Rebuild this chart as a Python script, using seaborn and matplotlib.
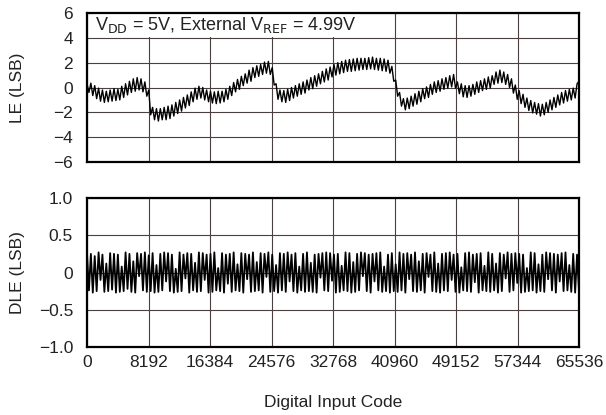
import numpy as np
import pandas as pd
import matplotlib
matplotlib.use("Agg")
import matplotlib.pyplot as plt
import seaborn as sns

# ---------------- data ----------------
x_ticks = [0, 8192, 16384, 24576, 32768, 40960, 49152, 57344, 65536]
x_tick_labels = ["0", "8192", "16384", "24576", "32768", "40960", "49152", "57344", "65536"]
le_ticks = [6, 4, 2, 0, -2, -4, -6]
le_tick_labels = ["6", "4", "2", "0", "\u22122", "\u22124", "\u22126"]
dle_ticks = [1.0, 0.5, 0, -0.5, -1.0]
dle_tick_labels = ["1.0", "0.5", "0", "\u22120.5", "\u22121.0"]

# LE (INL) samples, one every 256 codes
le_values = [
    0.3, -0.4, 0.35, -0.65, 0.15, -0.9, -0.05, -1.1, -0.2, -1.2, -0.3, -1.15, -0.2, -1.1, -0.1, -1.05,
    -0.15, -1.0, 0.1, -0.8, 0.3, -0.6, 0.5, -0.4, 0.7, -0.3, 0.8, -0.2, 0.7, -0.35, 0.45, -0.7,
    -0.2, -2.2, -1.6, -2.6, -1.7, -2.7, -1.7, -2.6, -1.6, -2.6, -1.5, -2.5, -1.4, -2.3, -1.2, -2.1,
    -1.0, -1.9, -0.8, -1.65, -0.6, -1.45, -0.35, -1.15, -0.05, -0.95, 0.1, -0.85, 0.0, -1.0, -0.2, -1.15,
    -0.3, -1.25, -0.35, -1.3, -0.3, -1.25, -0.3, -1.15, -0.15, -0.95, 0.1, -0.65, 0.4, -0.35, 0.65, -0.15,
    0.9, 0.15, 1.1, 0.35, 1.4, 0.5, 1.6, 0.8, 1.75, 0.9, 1.85, 1.05, 2.05, 1.15, 2.1, 1.05,
    1.6, 0.2, 0.3, -0.95, -0.2, -1.15, -0.25, -1.2, -0.15, -1.05, 0.0, -0.85, 0.15, -0.7, 0.3, -0.55,
    0.45, -0.45, 0.6, -0.2, 0.8, -0.1, 0.95, 0.1, 1.1, 0.3, 1.3, 0.45, 1.5, 0.6, 1.65, 0.85,
    1.85, 1.0, 2.0, 1.1, 2.1, 1.2, 2.2, 1.3, 2.25, 1.3, 2.3, 1.35, 2.35, 1.4, 2.35, 1.45,
    2.35, 1.45, 2.4, 1.5, 2.45, 1.45, 2.35, 1.4, 2.35, 1.35, 2.3, 1.3, 2.2, 1.15, 1.7, 0.5,
    0.6, -0.7, -0.4, -1.5, -0.9, -1.8, -0.85, -1.7, -0.7, -1.5, -0.5, -1.35, -0.3, -1.15, -0.1, -0.9,
    0.05, -0.8, 0.25, -0.55, 0.45, -0.4, 0.55, -0.3, 0.7, -0.15, 0.8, -0.05, 0.95, 0.05, 1.05, -0.05,
    0.45, -0.5, 0.3, -0.75, 0.15, -0.8, 0.15, -0.7, 0.25, -0.55, 0.45, -0.4, 0.55, -0.25, 0.7, -0.15,
    0.85, -0.05, 0.95, 0.25, 1.25, 0.35, 1.4, 0.4, 1.25, 0.25, 1.05, 0.0, 0.7, -0.45, 0.2, -0.95,
    -0.25, -1.3, -0.55, -1.6, -0.85, -1.85, -1.05, -2.05, -1.2, -2.15, -1.3, -2.3, -1.35, -2.2, -1.2, -2.0,
    -1.0, -1.8, -0.8, -1.6, -0.6, -1.4, -0.4, -1.25, -0.25, -1.1, -0.15, -1.0, -0.05, -0.85, 0.3, 0.5,
]

# DLE samples, one every 256 codes
dle_values = [
    0.26, -0.24, 0.25, -0.27, 0.22, -0.25, 0.27, -0.10, 0.24, -0.26, 0.12, -0.25, 0.26, -0.23, 0.25, -0.27,
    0.24, -0.26, 0.08, -0.25, 0.27, -0.22, 0.25, -0.26, 0.15, -0.27, 0.26, -0.05, 0.25, -0.24, 0.27, -0.26,
    0.23, -0.25, 0.26, -0.27, 0.10, -0.26, 0.25, -0.24, 0.27, -0.12, 0.26, -0.25, 0.24, -0.27, 0.05, -0.26,
    0.27, -0.25, 0.24, -0.08, 0.26, -0.27, 0.25, -0.24, 0.13, -0.26, 0.27, -0.25, 0.26, -0.10, 0.24, -0.27,
    0.25, -0.26, 0.27, -0.24, 0.06, -0.25, 0.26, -0.27, 0.24, -0.15, 0.25, -0.26, 0.27, -0.24, 0.11, -0.25,
    0.26, -0.27, 0.25, -0.09, 0.24, -0.26, 0.27, -0.25, 0.14, -0.24, 0.26, -0.27, 0.25, -0.06, 0.27, -0.26,
    0.24, -0.25, 0.10, -0.27, 0.26, -0.24, 0.25, -0.26, 0.27, -0.12, 0.24, -0.25, 0.26, -0.27, 0.08, -0.24,
    0.25, -0.26, 0.27, -0.25, 0.13, -0.26, 0.24, -0.27, 0.25, -0.07, 0.26, -0.24, 0.27, -0.25, 0.26, -0.11,
    0.24, -0.27, 0.25, -0.26, 0.09, -0.24, 0.27, -0.25, 0.26, -0.27, 0.14, -0.26, 0.25, -0.24, 0.27, -0.05,
    0.26, -0.25, 0.24, -0.27, 0.25, -0.12, 0.26, -0.24, 0.27, -0.26, 0.08, -0.25, 0.24, -0.27, 0.26, -0.25,
    0.11, -0.26, 0.27, -0.24, 0.25, -0.27, 0.26, -0.09, 0.24, -0.25, 0.27, -0.26, 0.15, -0.24, 0.25, -0.27,
    0.26, -0.06, 0.24, -0.25, 0.27, -0.26, 0.12, -0.27, 0.25, -0.24, 0.26, -0.25, 0.27, -0.10, 0.24, -0.26,
    0.25, -0.27, 0.07, -0.24, 0.26, -0.25, 0.27, -0.26, 0.24, -0.13, 0.25, -0.27, 0.26, -0.24, 0.09, -0.25,
    0.27, -0.26, 0.25, -0.24, 0.12, -0.27, 0.26, -0.25, 0.24, -0.08, 0.27, -0.26, 0.25, -0.24, 0.26, -0.14,
    0.25, -0.27, 0.24, -0.26, 0.06, -0.25, 0.27, -0.24, 0.26, -0.27, 0.11, -0.25, 0.24, -0.26, 0.27, -0.09,
    0.26, -0.24, 0.25, -0.27, 0.24, -0.12, 0.26, -0.25, 0.27, -0.24, 0.10, -0.26, 0.25, -0.27, 0.24, -0.25,
]

codes = np.linspace(0, 65535, len(le_values))
df_le = pd.DataFrame({"code": codes, "LE": le_values})
df_dle = pd.DataFrame({"code": np.linspace(0, 65535, len(dle_values)), "DLE": dle_values})

# ---------------- styling ----------------
sns.set_style("white")
plt.rcParams["font.family"] = ["Liberation Sans", "DejaVu Sans"]
plt.rcParams["axes.unicode_minus"] = True

fig = plt.figure(figsize=(6.06, 4.15), dpi=100)
ax1 = fig.add_axes([87 / 606, 1 - 162 / 415, 492 / 606, 149 / 415])
ax2 = fig.add_axes([87 / 606, 1 - 347 / 415, 492 / 606, 149 / 415])

grid_kw = dict(color="#4a4040", linewidth=0.8)
lbl_fs = 12.5
txt_col = "#222222"

sns.lineplot(data=df_le, x="code", y="LE", ax=ax1, color="black", linewidth=1.0,
             estimator=None, legend=False)
sns.lineplot(data=df_dle, x="code", y="DLE", ax=ax2, color="black", linewidth=1.3,
             estimator=None, legend=False)

for ax in (ax1, ax2):
    ax.set_xlim(0, 65536)
    ax.set_xticks(x_ticks)
    ax.grid(True, **grid_kw)
    ax.set_axisbelow(True)
    for s in ax.spines.values():
        s.set_visible(True)
        s.set_color("black")
        s.set_linewidth(1.6)
        s.set_zorder(3)
    ax.tick_params(length=0, labelsize=lbl_fs, colors=txt_col)

ax1.set_ylim(-6, 6)
ax1.set_yticks(le_ticks)
ax1.set_yticklabels(le_tick_labels)
ax1.set_xticklabels([])
ax1.tick_params(axis="y", pad=10)
ax1.set_xlabel("")
ax1.set_ylabel("LE (LSB)", fontsize=lbl_fs, color=txt_col)
ax1.yaxis.set_label_coords(-0.126, 0.5)

ax2.set_ylim(-1, 1)
ax2.set_yticks(dle_ticks)
ax2.set_yticklabels(dle_tick_labels)
ax2.set_xticklabels(x_tick_labels)
ax2.tick_params(axis="y", pad=10)
ax2.tick_params(axis="x", pad=6)
ax2.set_xlabel("Digital Input Code", fontsize=lbl_fs, color=txt_col)
ax2.xaxis.set_label_coords(0.5, -0.32)
ax2.set_ylabel("DLE (LSB)", fontsize=lbl_fs, color=txt_col)
ax2.yaxis.set_label_coords(-0.126, 0.5)

ax1.text(0.016, 0.886, r"V$_{\mathrm{DD}}$ = 5V, External V$_{\mathrm{REF}}$ = 4.99V",
         transform=ax1.transAxes, ha="left", va="baseline", fontsize=13, color=txt_col,
         bbox=dict(facecolor="white", edgecolor="none", pad=1.5), zorder=2.2)

fig.savefig("out.png", dpi=100)
